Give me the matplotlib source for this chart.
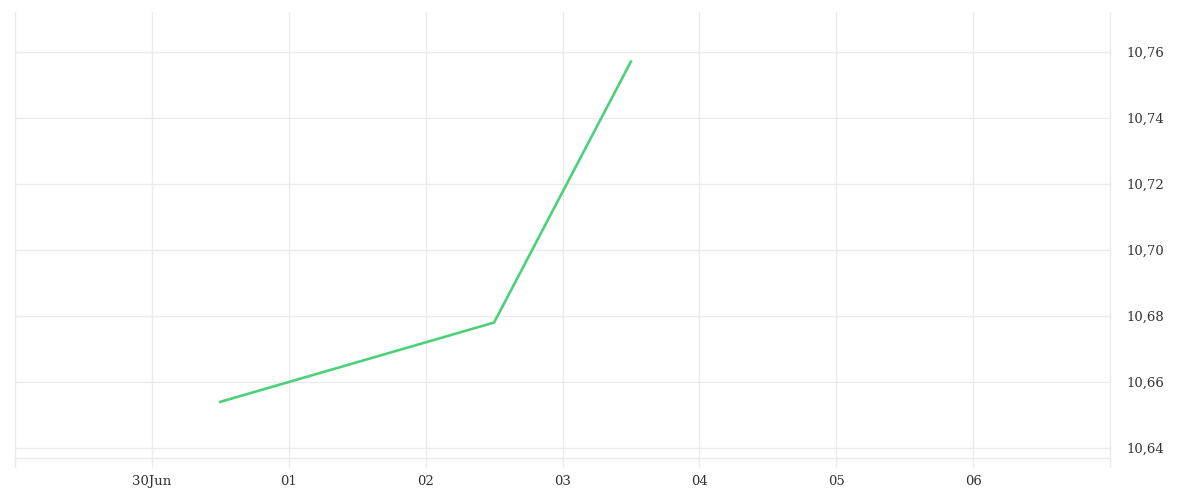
import matplotlib
matplotlib.use("Agg")
import matplotlib.pyplot as plt
import matplotlib.dates as mdates
import numpy as np
from datetime import datetime

# data
times = [datetime(2023, 6, 30, 12), datetime(2023, 7, 2, 12), datetime(2023, 7, 3, 12)]
values = [10.654, 10.678, 10.757]

tick_days = [datetime(2023, 6, 30), datetime(2023, 7, 1), datetime(2023, 7, 2), datetime(2023, 7, 3),
             datetime(2023, 7, 4), datetime(2023, 7, 5), datetime(2023, 7, 6)]
tick_labels = ["30Jun", "01", "02", "03", "04", "05", "06"]
y_ticks = [10.64, 10.66, 10.68, 10.70, 10.72, 10.74, 10.76]

GRID = "#ebebeb"
TEXT = "#333333"

plt.rcParams['font.family'] = ['DejaVu Serif']

fig = plt.figure(figsize=(12, 5), dpi=100)
ax = fig.add_axes([15/1200, 42/500, 1095/1200, 446/500])

ax.plot(times, values, color="#4cd17a", lw=1.9, solid_joinstyle="miter", zorder=3)

ax.set_xlim(datetime(2023, 6, 29), datetime(2023, 7, 7))
ax.set_ylim(10.637, 10.772)

ax.set_xticks(tick_days)
ax.set_xticklabels(tick_labels)
ax.set_yticks(y_ticks)
ax.set_yticklabels([("%.2f" % v).replace(".", ",") for v in y_ticks])

ax.yaxis.tick_right()
ax.tick_params(axis="y", length=0, pad=12, labelsize=9.5, labelcolor=TEXT)
ax.tick_params(axis="x", length=6.5, width=1, color=GRID, pad=6, labelsize=9.5, labelcolor=TEXT)

ax.grid(True, color=GRID, lw=1)
ax.set_axisbelow(True)

for s in ["top", "left", "right"]:
    ax.spines[s].set_visible(False)
ax.spines["bottom"].set_color(GRID)
ax.spines["bottom"].set_linewidth(1)

# edge lines running down past the bottom like the ticks
for xe in [0, 1]:
    ax.plot([xe, xe], [-9/446, 1], transform=ax.transAxes, color=GRID, lw=1, clip_on=False)

fig.savefig("out.png", dpi=100, facecolor="white")
